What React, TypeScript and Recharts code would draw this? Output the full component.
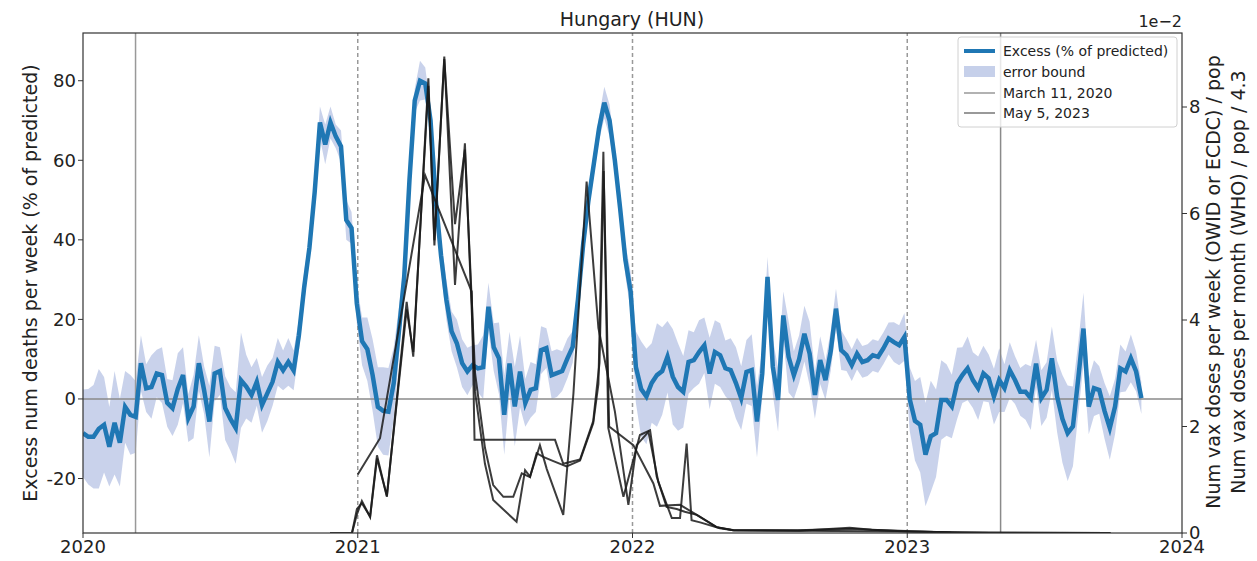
import { ComposedChart, Line, Area, XAxis, YAxis, ReferenceLine } from "recharts";

// weekly excess mortality, Hungary, first week of 2020 onward
const weekStart = 2020.0;
const weekStep = 7 / 365.25;

const excessPct = [
  -8.6, -9.5, -9.5, -7.5, -6.5, -12, -6, -11, -2, -4, -4.5,
  9, 2.7, 3, 6.4, 6, -1, -2.3, 2.5, 6, -4.8, -1.9, 9, 2.2, -5.7, 6.4, 7, -2.3, -5, -7.3,
  4.7, 3.1, 1, 4.3, -1.5, 1.4, 4.3, 9.3, 7.2, 9.3, 7.2,
  16, 28, 38, 52, 69.5, 64, 69.5, 66, 63.5, 45, 43, 24, 14.5,
  12.5, 6, -2, -3, -3.2, 3.9, 17,
  30.7, 55, 75, 80, 79.3, 70, 50, 36,
  25, 17, 14, 9, 6.9, 8.5, 7.7, 8, 23.2, 13, 10.2, -4, 8.9, -1.9, 6.9, -1, 2.3, 2.7, 12.3, 12.8,
  6, 6.5, 7, 10.2, 13.1, 25, 39,
  50, 59, 68, 74.5, 70, 60, 48, 35, 27,
  8, 2.5, 0.6, 4, 6, 7, 10.6, 5.6, 3, 1.8, 9.3, 9.75, 11.8, 13.5, 6.4, 11.8, 11, 7.7, 7.25, 4,
  0.2, 6.8, 7.25, -5.7, 6.4, 30.7, 8.1, -0.25, 21, 10.6, 6, 10, 16.4, 11.4, 1, 9.75,
  4.75, 12, 22.7, 12.25, 11, 8.5, 11.4, 9.3, 9.75, 11, 10.6, 12.7, 15.2, 14.3, 13.5, 15.6,
  0, -5.5, -6.5, -14, -9.4, -8.6, -0.25, -0.25, -1.9, 3.9, 6, 7.7, 4.75, 2.7, 6.4, 5.2, 0.6,
  4.75, 2.7, 7.25, 4.75, 1.8, 1.8, 0.2, 8.9, 0.2, 2.25, 10.2, 0.6, -5, -8.6, -6.9, 5, 17.7,
  -1.9, 2.7, 2.25, -3, -7.3, -1.9, 7.7, 6.9, 10.2, 6.9, 0.2,
];

// half width of the error band, same weeks
const errorHalfWidth = [
  11, 12, 13, 15, 12, 10, 13, 11, 9, 10, 9,
  7, 6, 8, 6, 7, 6, 7, 9, 7, 6, 8, 7, 6, 9, 7, 6, 8, 8, 9, 12, 8, 7, 6, 7, 7, 6, 6, 5, 6, 5,
  4, 4, 3, 3, 4, 5, 4, 3, 4, 5, 4, 5, 6,
  8, 9, 10, 11, 11, 9, 6,
  4, 3, 3, 5, 4, 3, 3, 4,
  5, 5, 6, 6, 6, 5, 6, 8, 6, 6, 9, 10, 8, 10, 9, 6, 7, 6, 6, 5, 6, 6, 5, 5, 4, 4, 4,
  3, 3, 3, 4, 4, 3, 4, 4, 5,
  9, 12, 12, 10, 13, 11, 9, 12, 11, 9, 8, 7, 8, 7, 9, 8, 8, 7, 8, 9, 8, 8, 9, 9, 6, 5, 7, 8, 6, 9, 6, 6, 7, 8, 6, 6,
  5, 5, 5, 5, 4, 4, 4, 4, 4, 4, 4, 4, 4, 5, 5, 6,
  8, 10, 12, 13, 14, 11, 10, 9, 8, 9, 7, 8, 7, 8, 7, 6, 7, 8, 6, 7, 6, 6, 7, 8, 6, 7, 7, 8, 9, 11,
  12, 10, 9, 9, 7, 7, 6, 7, 8, 7, 6, 5, 6, 5, 4,
];

// vaccine doses / pop, in units of 1e-2  [year, value]
const vaxOwid: [number, number][] = [
  [2020.899, 0], [2020.979, 0], [2020.997, 0.45], [2021.015, 0.56], [2021.045, 0.31], [2021.07, 1.46],
  [2021.106, 0.68], [2021.178, 4.34], [2021.202, 3.31], [2021.257, 8.54], [2021.279, 5.4], [2021.315, 8.95],
  [2021.354, 4.66], [2021.39, 7.32], [2021.427, 2.65], [2021.463, 1.3], [2021.493, 0.62], [2021.578, 0.21],
  [2021.609, 1.18], [2021.627, 1.06], [2021.663, 1.65], [2021.688, 1.2], [2021.748, 0.34], [2021.785, 2.62],
  [2021.833, 6.6], [2021.876, 3.85], [2021.936, 2.28], [2021.985, 0.53], [2022.015, 1.65], [2022.058, 1.9],
  [2022.094, 0.96], [2022.143, 0.28], [2022.173, 0.28], [2022.197, 1.68], [2022.215, 0.24], [2022.246, 0.2],
  [2022.318, 0.09], [2022.366, 0.05], [2022.61, 0.04], [2022.79, 0.1], [2022.87, 0.06], [2022.97, 0.04],
  [2023.16, 0.01], [2023.74, 0],
];

const vaxEcdc: [number, number][] = [
  [2020.979, 0], [2020.997, 0.35], [2021.015, 0.6], [2021.045, 0.3], [2021.07, 1.4], [2021.106, 0.7],
  [2021.178, 4.2], [2021.202, 3.4], [2021.257, 8.4], [2021.279, 5.5], [2021.315, 8.9], [2021.354, 5.8],
  [2021.39, 7.2], [2021.427, 3.0], [2021.463, 1.6], [2021.493, 0.9], [2021.53, 0.68], [2021.566, 0.68],
  [2021.597, 1.12], [2021.627, 1.05], [2021.651, 1.5], [2021.675, 1.43], [2021.712, 1.35], [2021.76, 1.25],
  [2021.809, 1.36], [2021.857, 2.06], [2021.876, 2.8], [2021.894, 7.16], [2021.912, 1.97], [2021.967, 0.68],
  [2022.003, 1.37], [2022.027, 1.84], [2022.064, 1.93], [2022.088, 1.06], [2022.124, 0.49], [2022.161, 0.45],
  [2022.19, 0.4], [2022.234, 0.34], [2022.306, 0.11], [2022.37, 0.05], [2022.6, 0.05], [2022.8, 0.08],
  [2023.0, 0.03], [2023.2, 0.01], [2023.74, 0],
];

const vaxWho: [number, number][] = [
  [2021.0, 1.1], [2021.081, 1.78], [2021.245, 6.72], [2021.415, 4.53], [2021.425, 1.75], [2021.718, 1.75],
  [2021.748, 1.3], [2021.809, 1.38], [2021.857, 2.1], [2021.88, 3.2], [2021.895, 6.8], [2021.915, 2.0],
  [2022.003, 1.65], [2022.076, 0.93], [2022.1, 0.51], [2022.173, 0.53], [2022.234, 0.34], [2022.306, 0.11],
  [2022.366, 0.05], [2023.0, 0.03], [2023.3, 0],
];

const yearTicks = [2020, 2021, 2022, 2023, 2024];
const leftTicks = [-20, 0, 20, 40, 60, 80];
const rightTicks = [0, 2, 4, 6, 8];
const yearBounds = [2021, 2022, 2023];
const march11 = 2020 + 70 / 366;
const may5 = 2023 + 124 / 365;

type Row = {
  t: number;
  excess?: number;
  band?: [number, number];
  owid?: number;
  ecdc?: number;
  who?: number;
};

const rows: Row[] = [];
excessPct.forEach((v, i) => {
  const hw = errorHalfWidth[i] ?? 6;
  rows.push({ t: weekStart + i * weekStep, excess: v, band: [v - hw, v + hw] });
});
vaxOwid.forEach(([t, v]) => rows.push({ t, owid: v }));
vaxEcdc.forEach(([t, v]) => rows.push({ t, ecdc: v }));
vaxWho.forEach(([t, v]) => rows.push({ t, who: v }));
rows.sort((a, b) => a.t - b.t);

const FONT = "DejaVu Sans, sans-serif";
const BLUE = "#1f77b4";
const BAND = "#c6d0ea";
const tickStyle = { fill: "#222", fontSize: 18, fontFamily: FONT };

export default function App() {
  return (
    <div style={{ position: "absolute", left: 0, top: 0, width: 1257, height: 561, background: "#fff" }}>
      <ComposedChart width={1257} height={561} data={rows} margin={{ top: 33, right: 0, bottom: 0, left: 0 }}>
        <XAxis
          dataKey="t"
          type="number"
          domain={[2020, 2024]}
          ticks={yearTicks}
          allowDataOverflow
          height={28}
          axisLine={false}
          tickSize={5}
          tickLine={{ stroke: "#333" }}
          tick={tickStyle}
        />
        <YAxis
          yAxisId="left"
          type="number"
          domain={[-33.7, 92]}
          ticks={leftTicks}
          allowDataOverflow
          width={83}
          axisLine={false}
          tickSize={5}
          tickLine={{ stroke: "#333" }}
          tick={tickStyle}
        />
        <YAxis
          yAxisId="right"
          orientation="right"
          type="number"
          domain={[0, 9.39]}
          ticks={rightTicks}
          allowDataOverflow
          width={75}
          axisLine={false}
          tickSize={5}
          tickLine={{ stroke: "#333" }}
          tick={tickStyle}
        />
        <ReferenceLine yAxisId="left" y={0} stroke="#8a8a8a" strokeWidth={1.5} />
        <ReferenceLine yAxisId="left" x={march11} stroke="#999" strokeWidth={1.5} />
        <ReferenceLine yAxisId="left" x={may5} stroke="#8a8a8a" strokeWidth={1.5} />
        {yearBounds.map((y) => (
          <ReferenceLine key={y} yAxisId="left" x={y} stroke="#999" strokeWidth={1.5} strokeDasharray="4 3" />
        ))}
        <Area
          yAxisId="left"
          dataKey="band"
          stroke="none"
          fill={BAND}
          fillOpacity={0.95}
          connectNulls
          isAnimationActive={false}
          type="linear"
        />
        <Line
          yAxisId="left"
          dataKey="excess"
          stroke={BLUE}
          strokeWidth={4.5}
          dot={false}
          connectNulls
          isAnimationActive={false}
          type="linear"
        />
        <Line yAxisId="right" dataKey="who" stroke="#1a1a1a" strokeWidth={2} strokeOpacity={0.85} dot={false} connectNulls isAnimationActive={false} type="linear" />
        <Line yAxisId="right" dataKey="ecdc" stroke="#1a1a1a" strokeWidth={2} strokeOpacity={0.85} dot={false} connectNulls isAnimationActive={false} type="linear" />
        <Line yAxisId="right" dataKey="owid" stroke="#1a1a1a" strokeWidth={2} strokeOpacity={0.85} dot={false} connectNulls isAnimationActive={false} type="linear" />
      </ComposedChart>

      <svg width={1257} height={561} style={{ position: "absolute", left: 0, top: 0, pointerEvents: "none" }} fontFamily={FONT}>
        <rect x={83} y={33} width={1099} height={500} fill="none" stroke="#333" strokeWidth={1.2} />
        <text x={632} y={26} textAnchor="middle" fontSize={19} fill="#222">Hungary (HUN)</text>
        <text x={1182} y={27} textAnchor="end" fontSize={16} fill="#222">1e−2</text>
        <text transform="translate(37,283) rotate(-90)" textAnchor="middle" fontSize={19} fill="#222">
          Excess num deaths per week (% of predicted)
        </text>
        <text transform="translate(1220,282) rotate(-90)" textAnchor="middle" fontSize={19} fill="#222">
          Num vax doses per week (OWID or ECDC) / pop
        </text>
        <text transform="translate(1245,282) rotate(-90)" textAnchor="middle" fontSize={19} fill="#222">
          Num vax doses per month (WHO) / pop / 4.3
        </text>

        <rect x={958} y={37} width={219} height={90} rx={3} fill="#fff" fillOpacity={0.8} stroke="#d0d0d0" />
        <line x1={964} x2={995} y1={51} y2={51} stroke={BLUE} strokeWidth={4} />
        <text x={1003} y={56} fontSize={14} fill="#222">Excess (% of predicted)</text>
        <rect x={964} y={66} width={31} height={11} fill={BAND} />
        <text x={1003} y={76.5} fontSize={14} fill="#222">error bound</text>
        <line x1={964} x2={995} y1={93} y2={93} stroke="#999" strokeWidth={1.5} />
        <text x={1003} y={97.5} fontSize={14} fill="#222">March 11, 2020</text>
        <line x1={964} x2={995} y1={113} y2={113} stroke="#777" strokeWidth={1.5} />
        <text x={1003} y={117.5} fontSize={14} fill="#222">May 5, 2023</text>
      </svg>
    </div>
  );
}
